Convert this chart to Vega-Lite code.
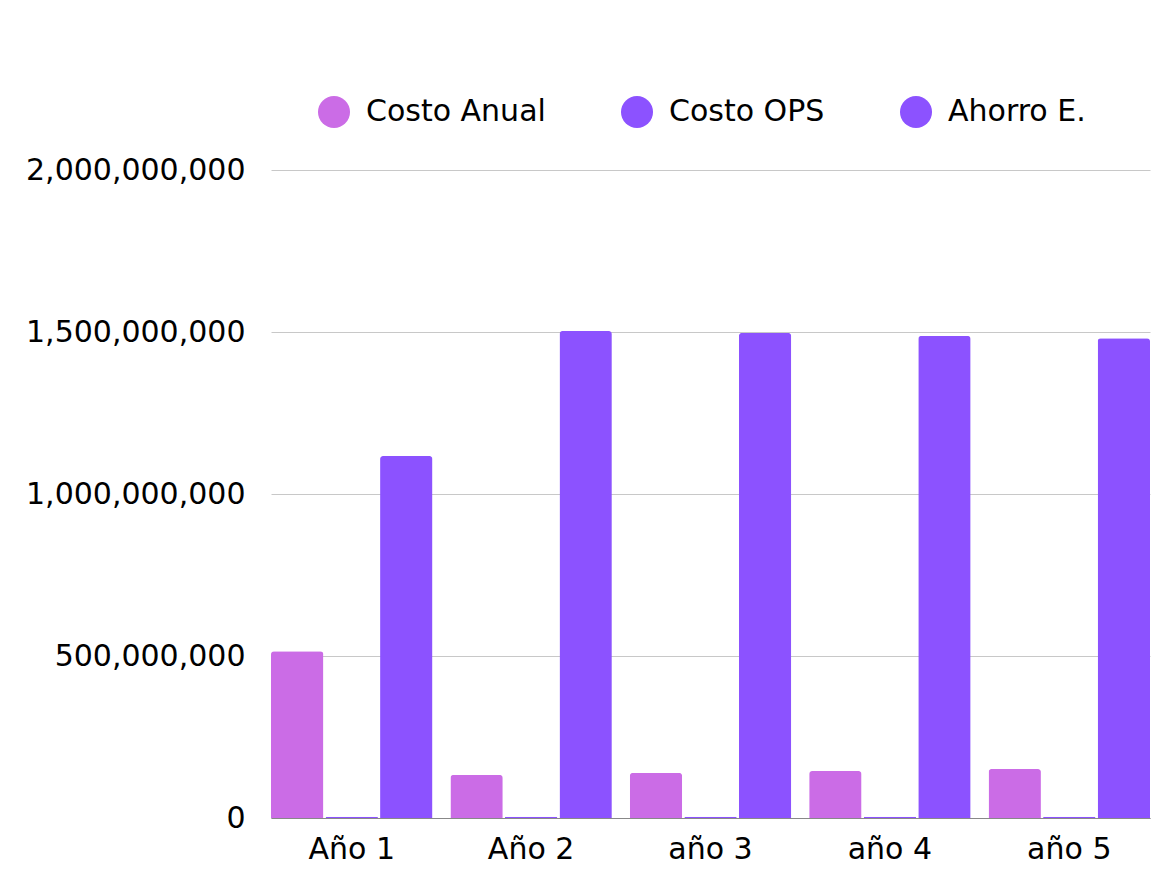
{
  "$schema": "https://vega.github.io/schema/vega-lite/v6.json",
  "autosize": {"type": "none"},
  "padding": {"left": 271, "top": 170, "right": 25, "bottom": 59},
  "width": 879,
  "height": 648,
  "background": "white",
  "config": {
    "view": {"stroke": null},
    "font": "DejaVu Sans"
  },
  "data": {
    "values": [
      {"year": "Año 1", "serie": "Costo Anual", "valor": 515000000},
      {"year": "Año 1", "serie": "Costo OPS", "valor": 4000000},
      {"year": "Año 1", "serie": "Ahorro E.", "valor": 1117000000},
      {"year": "Año 2", "serie": "Costo Anual", "valor": 133000000},
      {"year": "Año 2", "serie": "Costo OPS", "valor": 4000000},
      {"year": "Año 2", "serie": "Ahorro E.", "valor": 1503000000},
      {"year": "año 3", "serie": "Costo Anual", "valor": 139000000},
      {"year": "año 3", "serie": "Costo OPS", "valor": 4000000},
      {"year": "año 3", "serie": "Ahorro E.", "valor": 1497000000},
      {"year": "año 4", "serie": "Costo Anual", "valor": 145000000},
      {"year": "año 4", "serie": "Costo OPS", "valor": 4000000},
      {"year": "año 4", "serie": "Ahorro E.", "valor": 1488000000},
      {"year": "año 5", "serie": "Costo Anual", "valor": 151000000},
      {"year": "año 5", "serie": "Costo OPS", "valor": 4000000},
      {"year": "año 5", "serie": "Ahorro E.", "valor": 1481000000}
    ]
  },
  "mark": {"type": "bar", "cornerRadiusTopLeft": 3, "cornerRadiusTopRight": 3},
  "encoding": {
    "x": {
      "field": "year", "type": "nominal", "sort": null,
      "scale": {"paddingInner": 0.1, "paddingOuter": 0},
      "axis": {
        "title": null, "labelAngle": 0, "labelFontSize": 30, "labelColor": "#000000",
        "labelPadding": 16, "ticks": false, "domainColor": "#888888", "domainWidth": 1,
        "labelFont": "DejaVu Sans"
      }
    },
    "xOffset": {
      "field": "serie", "type": "nominal",
      "sort": ["Costo Anual", "Costo OPS", "Ahorro E."],
      "scale": {"paddingInner": 0.04, "paddingOuter": 0}
    },
    "y": {
      "field": "valor", "type": "quantitative",
      "scale": {"domain": [0, 2000000000], "nice": false},
      "axis": {
        "title": null, "values": [0, 500000000, 1000000000, 1500000000, 2000000000],
        "format": ",d", "labelFontSize": 30, "labelColor": "#000000",
        "labelPadding": 26, "labelLimit": 400, "ticks": false, "domain": false,
        "gridColor": "#c8c8c8", "gridWidth": 1, "labelFont": "DejaVu Sans"
      }
    },
    "color": {
      "field": "serie", "type": "nominal",
      "scale": {"domain": ["Costo Anual", "Costo OPS", "Ahorro E."], "range": ["#CB6CE6", "#8C52FF", "#8C52FF"]},
      "legend": {
        "title": null, "orient": "none", "direction": "horizontal",
        "legendX": 47, "legendY": -74,
        "symbolType": "circle", "symbolSize": 1024, "symbolStrokeWidth": 0,
        "symbolOpacity": 1,
        "labelFontSize": 30, "labelColor": "#000000", "labelOffset": 16,
        "columnPadding": 75, "labelFont": "DejaVu Sans", "labelLimit": 400
      }
    }
  }
}
